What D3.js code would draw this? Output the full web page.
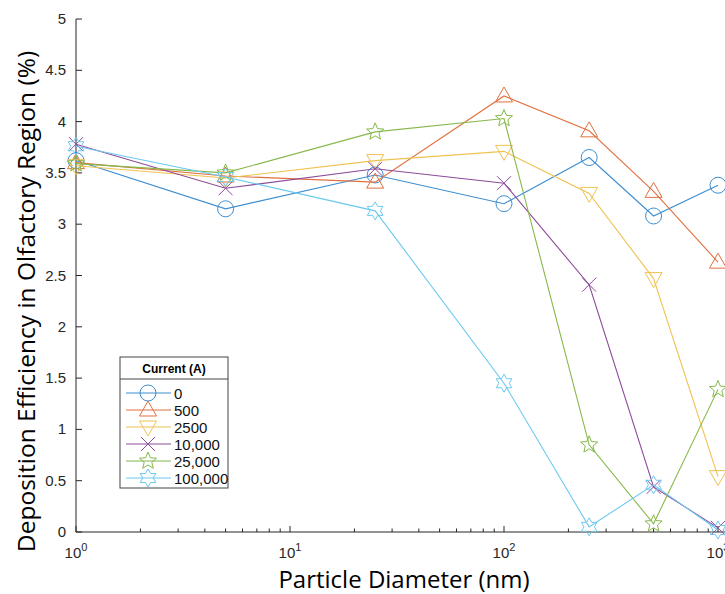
<!DOCTYPE html>
<html>
<head>
<meta charset="utf-8">
<script src="https://cdn.jsdelivr.net/npm/d3@7"></script>
<style>
  body { margin: 0; background: #fff; }
  svg { display: block; }
</style>
</head>
<body>
<div id="chart"></div>
<script>
// particle diameters (nm) and deposition efficiency (%) per current
const diameters = [1, 5, 25, 100, 250, 500, 1000];
const currents = ['0', '500', '2500', '10,000', '25,000', '100,000'];
const eff0      = [3.62, 3.15, 3.48, 3.20, 3.65, 3.08, 3.38];
const eff500    = [3.60, 3.47, 3.41, 4.25, 3.91, 3.32, 2.63];
const eff2500   = [3.57, 3.45, 3.62, 3.71, 3.30, 2.47, 0.54];
const eff10000  = [3.78, 3.35, 3.54, 3.40, 2.41, 0.44, 0.04];
const eff25000  = [3.59, 3.50, 3.90, 4.03, 0.85, 0.08, 1.39];
const eff100000 = [3.76, 3.46, 3.13, 1.45, 0.05, 0.46, 0.02];
const yTicks = [0, 0.5, 1, 1.5, 2, 2.5, 3, 3.5, 4, 4.5, 5];

const series = [eff0, eff500, eff2500, eff10000, eff25000, eff100000];
const colors = ['#3d8ed0', '#e0703f', '#f0c250', '#8e4c9b', '#86b84a', '#6cc9f0'];
const markers = ['circle', 'up', 'down', 'x', 'star5', 'star6'];

const width = 725, height = 594;
const margin = { top: 19, left: 76, bottom: 62 };
const axisColor = '#262626';

const svg = d3.select('#chart').append('svg')
  .attr('width', width)
  .attr('height', height);

const x = d3.scaleLog().domain([1, 1000]).range([margin.left, 718]);
const y = d3.scaleLinear().domain([0, 5]).range([height - margin.bottom, margin.top]);

// marker path generator, centred on 0,0
function markerPath(type) {
  const p = d3.path();
  if (type === 'circle') {
    p.arc(0, 0, 8, 0, 2 * Math.PI);
  } else if (type === 'up') {
    p.moveTo(0, -9); p.lineTo(8.5, 6); p.lineTo(-8.5, 6); p.closePath();
  } else if (type === 'down') {
    p.moveTo(0, 9); p.lineTo(8.5, -6); p.lineTo(-8.5, -6); p.closePath();
  } else if (type === 'x') {
    p.moveTo(-7, -7); p.lineTo(7, 7); p.moveTo(7, -7); p.lineTo(-7, 7);
  } else {
    const n = type === 'star5' ? 5 : 6;
    const ro = 9, ri = type === 'star5' ? 4 : 5.2;
    for (let i = 0; i < 2 * n; i++) {
      const a = -Math.PI / 2 + i * Math.PI / n;
      const r = i % 2 === 0 ? ro : ri;
      if (i === 0) p.moveTo(r * Math.cos(a), r * Math.sin(a));
      else p.lineTo(r * Math.cos(a), r * Math.sin(a));
    }
    p.closePath();
  }
  return p.toString();
}

// axes
const gx = svg.append('g').attr('transform', `translate(0,${y(0)})`);
gx.append('line').attr('x1', x(1)).attr('x2', width + 10)
  .attr('stroke', axisColor).attr('stroke-width', 1);
const minor = [];
[1, 10, 100].forEach(d => { for (let k = 2; k <= 9; k++) minor.push(d * k); });
gx.selectAll('.minor').data(minor).join('line')
  .attr('class', 'minor')
  .attr('x1', d => x(d)).attr('x2', d => x(d))
  .attr('y1', 0).attr('y2', -3.5)
  .attr('stroke', axisColor);
gx.selectAll('.major').data([1, 10, 100, 1000]).join('line')
  .attr('class', 'major')
  .attr('x1', d => x(d)).attr('x2', d => x(d))
  .attr('y1', 0).attr('y2', -6)
  .attr('stroke', axisColor);
const xl = gx.selectAll('.xlab').data([0, 1, 2, 3]).join('text')
  .attr('class', 'xlab')
  .attr('x', d => x(Math.pow(10, d)))
  .attr('y', 26)
  .attr('text-anchor', 'middle')
  .attr('font-family', 'Liberation Sans, Arial, sans-serif')
  .attr('font-size', 15)
  .attr('fill', axisColor);
xl.append('tspan').text('10');
xl.append('tspan').attr('dy', -7).attr('font-size', 11).text(d => d);

const gy = svg.append('g').attr('transform', `translate(${margin.left},0)`);
gy.append('line').attr('y1', y(0)).attr('y2', y(5))
  .attr('stroke', axisColor);
gy.selectAll('.ytick').data(yTicks).join('line')
  .attr('class', 'ytick')
  .attr('y1', d => y(d)).attr('y2', d => y(d))
  .attr('x1', 0).attr('x2', 6)
  .attr('stroke', axisColor);
gy.selectAll('.ylab').data(yTicks).join('text')
  .attr('class', 'ylab')
  .attr('x', -10)
  .attr('y', d => y(d) + 5)
  .attr('text-anchor', 'end')
  .attr('font-family', 'Liberation Sans, Arial, sans-serif')
  .attr('font-size', 15)
  .attr('fill', axisColor)
  .text(d => d);

// axis titles
svg.append('text')
  .attr('x', 404).attr('y', 588)
  .attr('text-anchor', 'middle')
  .attr('font-family', 'Open Sans, sans-serif')
  .attr('font-size', 24)
  .attr('fill', '#000')
  .text('Particle Diameter (nm)');
svg.append('text')
  .attr('transform', `translate(35,${(18 + 585) / 2}) rotate(-90)`)
  .attr('text-anchor', 'middle')
  .attr('font-family', 'Open Sans, sans-serif')
  .attr('font-size', 24.5)
  .attr('fill', '#000')
  .text('Deposition Efficiency in Olfactory Region (%)');

// series lines and markers
const line = d3.line().x((d, i) => x(diameters[i])).y(d => y(d));
series.forEach((vals, s) => {
  const g = svg.append('g');
  g.append('path')
    .attr('d', line(vals))
    .attr('fill', 'none')
    .attr('stroke', colors[s])
    .attr('stroke-width', 1.1);
  g.selectAll('.mk').data(vals).join('path')
    .attr('class', 'mk')
    .attr('transform', (d, i) => `translate(${x(diameters[i])},${y(d)})`)
    .attr('d', markerPath(markers[s]))
    .attr('fill', 'none')
    .attr('stroke', colors[s])
    .attr('stroke-width', 1);
});

// legend
const lg = svg.append('g').attr('transform', 'translate(120,357)');
lg.append('rect').attr('width', 108).attr('height', 131)
  .attr('fill', '#fff').attr('stroke', '#444').attr('stroke-width', 1);
lg.append('line').attr('x1', 0).attr('x2', 108).attr('y1', 22).attr('y2', 22)
  .attr('stroke', '#444');
lg.append('text').attr('x', 54).attr('y', 16)
  .attr('text-anchor', 'middle')
  .attr('font-family', 'Liberation Sans, Arial, sans-serif')
  .attr('font-size', 12).attr('font-weight', 'bold')
  .text('Current (A)');
const items = lg.selectAll('.item').data(currents).join('g')
  .attr('class', 'item')
  .attr('transform', (d, i) => `translate(0,${36 + i * 17})`);
items.append('line').attr('x1', 6).attr('x2', 51)
  .attr('stroke', (d, i) => colors[i]).attr('stroke-width', 1.1);
items.append('path')
  .attr('transform', 'translate(28,0)')
  .attr('d', (d, i) => markerPath(markers[i]))
  .attr('fill', 'none')
  .attr('stroke', (d, i) => colors[i]);
items.append('text').attr('x', 54).attr('y', 5.5)
  .attr('font-family', 'Liberation Sans, Arial, sans-serif')
  .attr('font-size', 15)
  .attr('fill', '#111')
  .text(d => d);
</script>
</body>
</html>
